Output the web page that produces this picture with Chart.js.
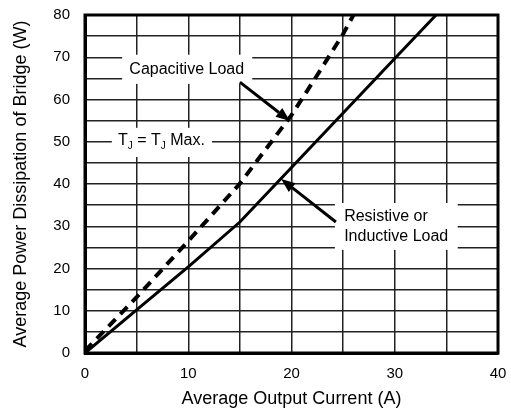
<!DOCTYPE html>
<html>
<head>
<meta charset="utf-8">
<script src="https://cdn.jsdelivr.net/npm/chart.js@4/dist/chart.umd.min.js"></script>
<style>
  html, body { margin: 0; padding: 0; background: #fff; }
  #wrap { width: 511px; height: 410px; }
</style>
</head>
<body>
<div id="wrap"><canvas id="bridgeChart" width="511" height="410"></canvas></div>
<script>
// curves: current (A) vs power (W)
var resistiveCurrent = [0, 5, 10, 15, 20, 25, 30, 34];
var resistivePower = [0, 10.2, 20.4, 31, 43.9, 56.8, 69.7, 80];
var capacitiveCurrent = [0, 5, 10, 15, 20, 22.5, 25, 26];
var capacitivePower = [0.5, 13.2, 26.5, 40.1, 56.3, 65.8, 75.5, 80];

var xTicks = [0, 10, 20, 30, 40];
var yTicks = [0, 10, 20, 30, 40, 50, 60, 70, 80];

function toPoints(xs, ys) {
    var pts = [];
    for (var i = 0; i < xs.length; i++) pts.push({ x: xs[i], y: ys[i] });
    return pts;
}

var FONT = "'Liberation Sans', Arial, Helvetica, sans-serif";

// text boxes and arrows, in data units
var labelBoxes = [
    { x0: 3.6, x1: 16.2, y0: 63.7, y1: 70.6 },
    { x0: 2.6, x1: 12.3, y0: 46.4, y1: 53.3 },
    { x0: 24.2, x1: 36.1, y0: 24.4, y1: 35.5 }
];
var arrows = [
    { from: [15.0, 64.1], to: [19.85, 54.9] },
    { from: [24.3, 31.0], to: [19.0, 41.2] }
];

function drawArrow(ctx, x1, y1, x2, y2) {
    var ang = Math.atan2(y2 - y1, x2 - x1);
    var len = 14, half = 5.5;
    var bx = x2 - len * Math.cos(ang), by = y2 - len * Math.sin(ang);
    ctx.beginPath();
    ctx.moveTo(x1, y1);
    ctx.lineTo(bx, by);
    ctx.lineWidth = 3;
    ctx.strokeStyle = "#000";
    ctx.stroke();
    ctx.beginPath();
    ctx.moveTo(x2, y2);
    ctx.lineTo(bx + half * Math.sin(ang), by - half * Math.cos(ang));
    ctx.lineTo(bx - half * Math.sin(ang), by + half * Math.cos(ang));
    ctx.closePath();
    ctx.fillStyle = "#000";
    ctx.fill();
}

var notes = {
    id: "notes",
    beforeDatasetsDraw: function (chart) {
        var ctx = chart.ctx, xs = chart.scales.x, ys = chart.scales.y;
        ctx.save();
        ctx.fillStyle = "#fff";
        labelBoxes.forEach(function (b) {
            var l = xs.getPixelForValue(b.x0), r = xs.getPixelForValue(b.x1);
            var t = ys.getPixelForValue(b.y1), btm = ys.getPixelForValue(b.y0);
            ctx.fillRect(l, t, r - l, btm - t);
        });

        ctx.fillStyle = "#000";
        ctx.textBaseline = "middle";
        ctx.font = "16px " + FONT;
        ctx.textAlign = "center";
        ctx.fillText("Capacitive Load", xs.getPixelForValue(9.85), ys.getPixelForValue(67.1));

        // T_J = T_J Max. with subscripts
        var parts = [["T", false], ["J", true], [" = T", false], ["J", true], [" Max.", false]];
        var widths = parts.map(function (p) {
            ctx.font = (p[1] ? "10px " : "16px ") + FONT;
            return ctx.measureText(p[0]).width;
        });
        var total = widths.reduce(function (a, b) { return a + b; }, 0);
        var cx = xs.getPixelForValue(7.4) - total / 2, cy = ys.getPixelForValue(50.2);
        ctx.textAlign = "left";
        parts.forEach(function (p, i) {
            ctx.font = (p[1] ? "10px " : "16px ") + FONT;
            ctx.fillText(p[0], cx, p[1] ? cy + 5 : cy);
            cx += widths[i];
        });

        ctx.font = "16px " + FONT;
        ctx.fillText("Resistive or", xs.getPixelForValue(25.1), ys.getPixelForValue(32.3));
        ctx.fillText("Inductive Load", xs.getPixelForValue(25.1), ys.getPixelForValue(27.5));
        ctx.restore();
    },
    afterDatasetsDraw: function (chart) {
        var ctx = chart.ctx, xs = chart.scales.x, ys = chart.scales.y;
        ctx.save();
        arrows.forEach(function (a) {
            drawArrow(ctx,
                xs.getPixelForValue(a.from[0]), ys.getPixelForValue(a.from[1]),
                xs.getPixelForValue(a.to[0]), ys.getPixelForValue(a.to[1]));
        });
        ctx.restore();
    }
};

var ctx = document.getElementById("bridgeChart").getContext("2d");
var chart = new Chart(ctx, {
    type: "scatter",
    data: {
        datasets: [
            {
                label: "Resistive or Inductive Load",
                data: toPoints(resistiveCurrent, resistivePower),
                showLine: true,
                borderColor: "#000",
                borderWidth: 3,
                pointRadius: 0,
                tension: 0
            },
            {
                label: "Capacitive Load",
                data: toPoints(capacitiveCurrent, capacitivePower),
                showLine: true,
                borderColor: "#000",
                borderWidth: 4,
                borderDash: [10, 7],
                pointRadius: 0,
                tension: 0
            }
        ]
    },
    options: {
        responsive: false,
        animation: false,
        layout: { padding: { top: 15, right: 13, left: 0, bottom: 0 } },
        plugins: {
            legend: { display: false },
            tooltip: { enabled: false }
        },
        scales: {
            x: {
                type: "linear",
                min: 0,
                max: 40,
                afterFit: function (s) {
                    s.height = 57;
                    s.paddingLeft = 0;
                    s.paddingRight = 0;
                },
                ticks: {
                    stepSize: 5,
                    padding: 12,
                    color: "#000",
                    font: { size: 15, family: FONT },
                    maxRotation: 0,
                    autoSkip: false,
                    callback: function (v) { return xTicks.indexOf(v) >= 0 ? v : ""; }
                },
                grid: { color: "#222", lineWidth: 1.5, drawTicks: false },
                border: { color: "#000", width: 3 },
                title: {
                    display: true,
                    text: "Average Output Current (A)",
                    color: "#000",
                    font: { size: 18, family: FONT },
                    padding: { top: 4, bottom: 0 }
                }
            },
            y: {
                type: "linear",
                min: 0,
                max: 80,
                afterFit: function (s) {
                    s.width = 85;
                    s.paddingTop = 0;
                    s.paddingBottom = 0;
                },
                ticks: {
                    stepSize: 5,
                    padding: 15,
                    color: "#000",
                    font: { size: 15, family: FONT },
                    autoSkip: false,
                    callback: function (v) { return yTicks.indexOf(v) >= 0 ? v : ""; }
                },
                grid: { color: "#222", lineWidth: 1.5, drawTicks: false },
                border: { color: "#000", width: 3 },
                title: {
                    display: true,
                    text: "Average Power Dissipation of Bridge (W)",
                    color: "#000",
                    font: { size: 18, family: FONT },
                    padding: { top: 10, bottom: 0 }
                }
            }
        }
    },
    plugins: [notes, {
        id: "frame",
        afterDraw: function (chart) {
            var a = chart.chartArea, c = chart.ctx;
            c.save();
            c.strokeStyle = "#000";
            c.lineWidth = 3;
            c.strokeRect(a.left, a.top, a.right - a.left, a.bottom - a.top);
            c.restore();
        }
    }]
});
</script>
</body>
</html>
